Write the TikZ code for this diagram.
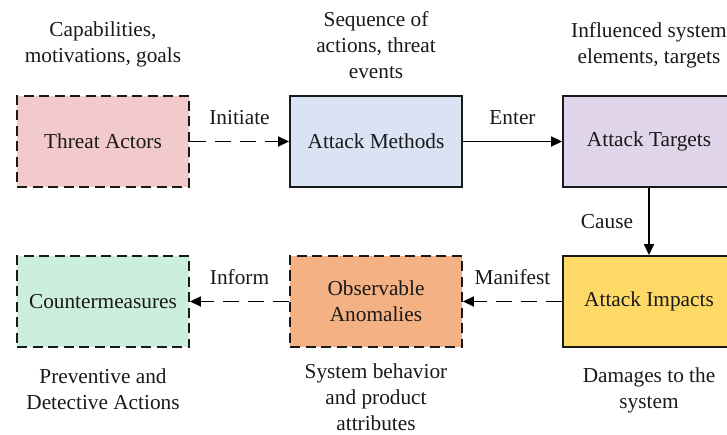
\documentclass[tikz,border=0pt]{standalone}
\usepackage{fontspec}
\setmainfont{Liberation Serif}
\usetikzlibrary{arrows.meta}
\definecolor{cpink}{HTML}{F2CACB}
\definecolor{cblue}{HTML}{DAE3F3}
\definecolor{clav}{HTML}{E1D5EB}
\definecolor{cyel}{HTML}{FFD966}
\definecolor{corg}{HTML}{F4B183}
\definecolor{cmint}{HTML}{CCEEDC}
\tikzset{
  every node/.style={font=\fontsize{21.3}{26}\selectfont, text=black!90},
  boxs/.style={draw=black!90, line width=1.9pt, minimum width=172pt, minimum height=91pt, inner sep=0pt, align=center},
  dbox/.style={boxs, dash pattern=on 10pt off 5.5pt},
  conn/.style={line width=1.8pt, draw=black, -{Triangle[length=11pt,width=10pt]}},
  dconn/.style={conn, dash pattern=on 16pt off 9pt},
  lab/.style={inner sep=0pt},
  note/.style={align=center, inner sep=0pt}
}
\begin{document}
\begin{tikzpicture}[x=1pt,y=-1pt]
\useasboundingbox (0,0) rectangle (727,435);
\clip (0,0) rectangle (727,435);
\node[dbox, fill=cpink] (ta) at (103,141.5) {Threat Actors};
\node[boxs, fill=cblue] (am) at (376,141.5) {Attack Methods};
\node[boxs, fill=clav] (at) at (649,141.5) {Attack Targets};
\node[dbox, fill=cmint] (cm) at (103,301.5) {Countermeasures};
\node[dbox, fill=corg] (oa) at (376,301.5) {Observable\\Anomalies};
\node[boxs, fill=cyel] (ai) at (649,301.5) {Attack Impacts};

\draw[dconn] (ta) -- node[lab, midway, yshift=23.5pt] (l1) {Initiate} (am);
\draw[conn] (am) -- node[lab, midway, yshift=23.5pt] (l2) {Enter} (at);
\draw[conn] (at) -- node[lab, midway, xshift=-42pt] (l3) {Cause} (ai);
\draw[dconn] (ai) -- node[lab, midway, yshift=24.5pt] (l4) {Manifest} (oa);
\draw[dconn] (oa) -- node[lab, midway, yshift=24.5pt] (l5) {Inform} (cm);

\node[note] (n1) at (103,44) {Capabilities,\\motivations, goals};
\node[note] (n2) at (376,45) {Sequence of\\actions, threat\\events};
\node[note] (n3) at (649,45) {Influenced system\\elements, targets};
\node[note] (n4) at (103,389) {Preventive and\\Detective Actions};
\node[note] (n5) at (376,397) {System behavior\\and product\\attributes};
\node[note] (n6) at (649,390) {Damages to the\\system};
\end{tikzpicture}
\end{document}
